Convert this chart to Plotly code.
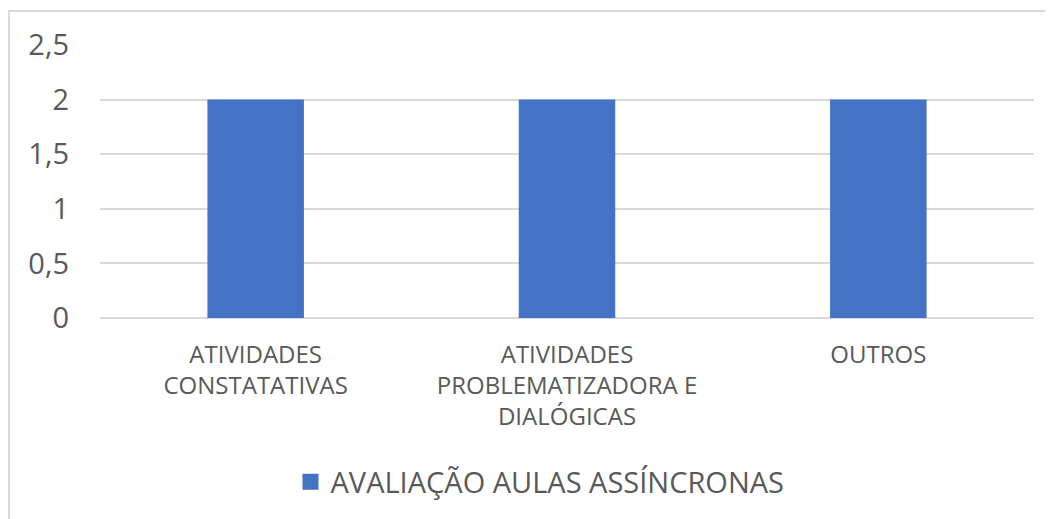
import plotly.graph_objects as go

categories = ["ATIVIDADES<br>CONSTATATIVAS", "ATIVIDADES<br>PROBLEMATIZADORA E<br>DIALÓGICAS", "OUTROS"]
values = [2, 2, 2]
series_name = "AVALIAÇÃO AULAS ASSÍNCRONAS"
y_tickvals = [0, 0.5, 1, 1.5, 2, 2.5]
y_ticktext = ["0", "0,5", "1", "1,5", "2", "2,5"]

OFF = 8  # default body margin of the page
W, H = 1053 - OFF, 519 - OFF
L, R, T, B = 100 - OFF, 19, 45 - OFF, 201
pw, ph = W - L - R, H - T - B

def px_x(x):
    return (x - OFF - L) / pw

def px_y(y):
    return (H - B - (y - OFF)) / ph

BLUE = "#4472C4"
GRAY = "#595959"

fig = go.Figure()
fig.add_trace(go.Bar(
    x=categories, y=values, name=series_name,
    marker=dict(color=BLUE, line=dict(width=0)),
    width=0.31, showlegend=False,
))
# legend proxy with a larger square symbol
fig.add_trace(go.Scatter(
    x=[None], y=[None], mode="markers", name=series_name,
    marker=dict(symbol="square", size=18, color=BLUE), showlegend=True,
))

fig.update_layout(
    width=W, height=H,
    margin=dict(l=L, r=R, t=T, b=B),
    paper_bgcolor="white", plot_bgcolor="white",
    font=dict(family="Open Sans, Noto Sans, sans-serif", color=GRAY),
    showlegend=True,
    legend=dict(orientation="h", x=px_x(540), xanchor="center", y=px_y(482), yanchor="middle",
                font=dict(size=29, color=GRAY), itemsizing="trace", itemwidth=30),
    xaxis=dict(showgrid=False, showline=False, tickfont=dict(size=24, color=GRAY),
               ticks="", ticklabelstandoff=20, fixedrange=True),
    yaxis=dict(range=[0, 2.5], tickvals=y_tickvals, ticktext=y_ticktext,
               showgrid=True, gridcolor="#d9d9d9", gridwidth=2,
               zeroline=True, zerolinecolor="#d9d9d9", zerolinewidth=2,
               showline=False, tickfont=dict(size=29, color=GRAY), ticks="",
               ticklabelstandoff=30),
    shapes=[dict(type="rect", xref="paper", yref="paper",
                 x0=px_x(9), x1=px_x(1070), y0=px_y(540), y1=px_y(11),
                 line=dict(color="#d9d9d9", width=2), fillcolor="rgba(0,0,0,0)")],
    bargap=0.69,
)

fig.write_html("out.html")
